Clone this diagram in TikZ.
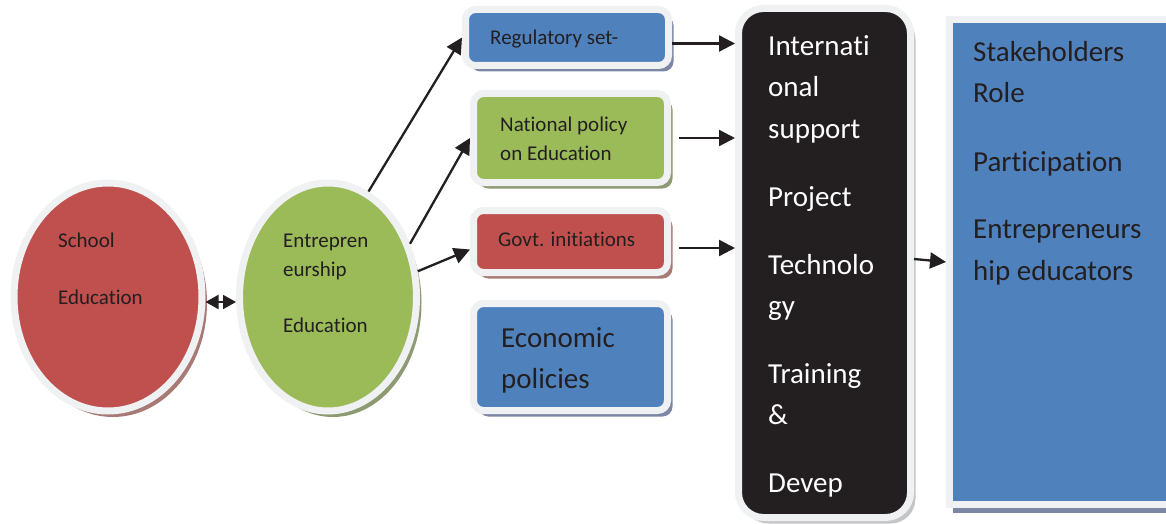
\documentclass[tikz,border=0pt]{standalone}
\usepackage{fontspec}
\setmainfont{Carlito}[RawFeature={-liga;-clig;-calt;-dlig}]
\usetikzlibrary{arrows.meta}
\usetikzlibrary{shapes.geometric}
\usetikzlibrary{shadows}

\definecolor{redfill}{HTML}{C0504D}
\definecolor{greenfill}{HTML}{9BBB59}
\definecolor{bluefill}{HTML}{4F81BD}
\definecolor{blackfill}{HTML}{231F20}
\definecolor{ringgrey}{HTML}{F0F1F3}
\definecolor{textdark}{HTML}{231F20}
\definecolor{redshade}{HTML}{A87A76}
\definecolor{greenshade}{HTML}{8E9A72}
\definecolor{blueshade}{HTML}{7D87A3}
\definecolor{greyshade}{HTML}{C4C5C7}

\begin{document}
\begin{tikzpicture}[x=1pt, y=-1pt,
	ring/.style={draw=ringgrey, line width=7pt},
	oval/.style={ellipse, ring, minimum height=228pt},
	rbox/.style={rectangle, rounded corners=10pt, ring},
	shade/.style={drop shadow={shadow xshift=5pt, shadow yshift=-6pt, fill=#1, opacity=1}},
	small/.style={anchor=north west, inner sep=0pt, align=left, text=textdark, font=\fontsize{21}{29}\selectfont},
	big/.style={small, font=\fontsize{29}{41.5}\selectfont},
	arr/.style={draw=textdark, line width=2.3pt, -{Triangle[length=16pt,width=16pt]}}]
	\useasboundingbox (0, 0) rectangle (1166, 524);
	\clip (0, 0) rectangle (1166, 524);
	
	\node [oval, minimum width=188pt, fill=redfill, shade=redshade] (school) at (108, 297) {}; % Ovals
	\node [oval, minimum width=177pt, fill=greenfill, shade=greenshade] (entre) at (328, 297) {};
	
	\node [rbox, minimum width=203pt, minimum height=56pt, fill=bluefill, shade=blueshade] (reg) at (567, 37.5) {}; % Middle boxes
	\node [rbox, minimum width=194pt, minimum height=89pt, fill=greenfill, shade=greenshade] (nat) at (570.5, 138) {};
	\node [rbox, minimum width=194pt, minimum height=62pt, fill=redfill, shade=redshade] (govt) at (570.5, 241.5) {};
	\node [rbox, minimum width=194pt, minimum height=107pt, fill=bluefill, shade=blueshade] (econ) at (570.5, 357) {};
	
	\node [rectangle, rounded corners=25pt, ring, minimum width=172pt, minimum height=509pt, fill=blackfill, shade=greyshade] (intl) at (824.5, 263) {}; % Black column
	\node [rectangle, ring, minimum width=350pt, minimum height=485pt, fill=bluefill, drop shadow={shadow xshift=3pt, shadow yshift=-8pt, fill=blueshade, opacity=1}] (stake) at (1124.5, 262) {}; % Right box
	
	\node [small] (schooltxt) at (58, 233) {School\\[28pt]Education}; % Texts
	\node [small] (entretxt) at (283, 234) {Entrepren\\eurship\\[27pt]Education};
	\node [small] (regtxt) at (490, 30) {Regulatory set-};
	\node [small] (nattxt) at (500, 117) {National policy\\on Education};
	\node [small] (govttxt) at (498, 232) {Govt. initiations};
	\node [big] (econtxt) at (501, 327) {Economic\\policies};
	\node [big, text=white] (intltxt) at (768, 35) {Internati\\onal\\support\\[26.5pt]Project\\[26.5pt]Technolo\\gy\\[26pt]Training\\\&\\[26.5pt]Devep};
	\node [big] (staketxt) at (973, 41) {Stakeholders\\Role\\[27pt]Participation\\[26pt]Entrepreneurs\\hip educators};
	
	\draw [draw=textdark, line width=2pt, {Triangle[length=13pt,width=14pt]}-{Triangle[length=13pt,width=14pt]}] ([yshift=-5pt]school.east) -- ([yshift=-5pt]entre.west); % Arrows
	\draw [arr] (entre.69) -- (reg.west);
	\draw [arr] (entre.33) -- (nat.west);
	\draw [arr] (entre.16) -- ([yshift=-8pt]govt.west);
	\draw [arr] ([yshift=-6pt]reg.east) -- ([yshift=-6pt]reg.east -| intl.west);
	\draw [arr] ([xshift=8pt]nat.east) -- (nat.east -| intl.west);
	\draw [arr] ([xshift=8pt, yshift=-6.5pt]govt.east) -- ([yshift=-6.5pt]govt.east -| intl.west);
	\draw [arr] ([yshift=4pt]intl.east) -- (stake.west);
\end{tikzpicture}
\end{document}
